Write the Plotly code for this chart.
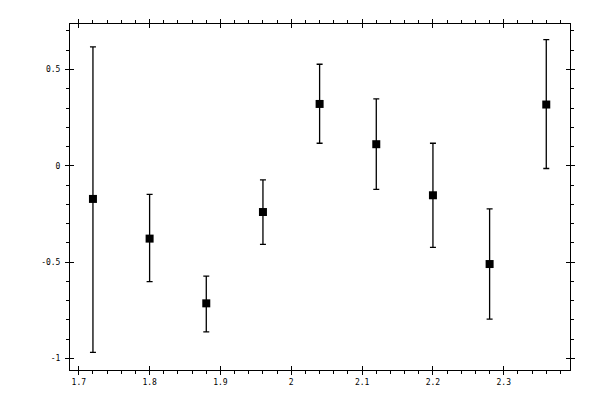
import plotly.graph_objects as go

x_vals = [1.72, 1.80, 1.88, 1.96, 2.04, 2.12, 2.20, 2.28, 2.36]
y_vals = [-0.172, -0.378, -0.714, -0.240, 0.321, 0.112, -0.153, -0.510, 0.318]
err_up = [0.789, 0.230, 0.141, 0.167, 0.206, 0.235, 0.270, 0.286, 0.337]
err_down = [0.797, 0.223, 0.148, 0.168, 0.204, 0.234, 0.270, 0.286, 0.332]

x_ticks = [1.7, 1.8, 1.9, 2.0, 2.1, 2.2, 2.3]
x_labels = ["1.7", "1.8", "1.9", "2", "2.1", "2.2", "2.3"]
y_ticks = [-1, -0.5, 0, 0.5]
y_labels = ["-1", "-0.5", "0", "0.5"]

x_range = [1.6876, 2.3935]
y_range = [-1.06, 0.736]

fig = go.Figure()

fig.add_trace(go.Scatter(
    x=x_vals, y=y_vals, mode="markers",
    marker=dict(symbol="square", size=8, color="black"),
    error_y=dict(type="data", symmetric=False, array=err_up, arrayminus=err_down,
                 color="black", thickness=1.3, width=3),
))

# invisible trace so the overlay axes (inner half of the major ticks) get drawn
fig.add_trace(go.Scatter(x=[x_vals[0]], y=[y_vals[0]], xaxis="x2", yaxis="y2",
                         mode="markers", marker=dict(opacity=0), hoverinfo="skip"))

font = dict(family="DejaVu Sans Mono", size=8, color="black")

axis_common = dict(showgrid=False, zeroline=False, tickmode="array",
                   tickcolor="black", tickwidth=1, tickfont=font)

# the page body adds an 8px offset, so margins are shifted to compensate
fig.update_layout(
    width=600, height=400,
    showlegend=False,
    plot_bgcolor="white", paper_bgcolor="white",
    margin=dict(l=61.5, r=38, t=11, b=38),
    xaxis=dict(axis_common, range=x_range, tickvals=x_ticks, ticktext=x_labels,
               ticks="outside", ticklen=4, showline=True, linecolor="black",
               linewidth=1, mirror="ticks",
               minor=dict(tickmode="linear", tick0=1.7, dtick=0.02, ticks="outside",
                          ticklen=3, tickcolor="black", tickwidth=1)),
    yaxis=dict(axis_common, range=y_range, tickvals=y_ticks, ticktext=y_labels,
               ticks="outside", ticklen=4, showline=True, linecolor="black",
               linewidth=1, mirror="ticks", ticklabelstandoff=3,
               minor=dict(tickmode="linear", tick0=0, dtick=0.1, ticks="outside",
                          ticklen=3, tickcolor="black", tickwidth=1)),
    xaxis2=dict(axis_common, overlaying="x", matches="x", tickvals=x_ticks,
                ticks="inside", ticklen=4, showticklabels=False, showline=False,
                mirror="ticks"),
    yaxis2=dict(axis_common, overlaying="y", matches="y", tickvals=y_ticks,
                ticks="inside", ticklen=4, showticklabels=False, showline=False,
                mirror="ticks"),
)

fig.write_html("out.html")
